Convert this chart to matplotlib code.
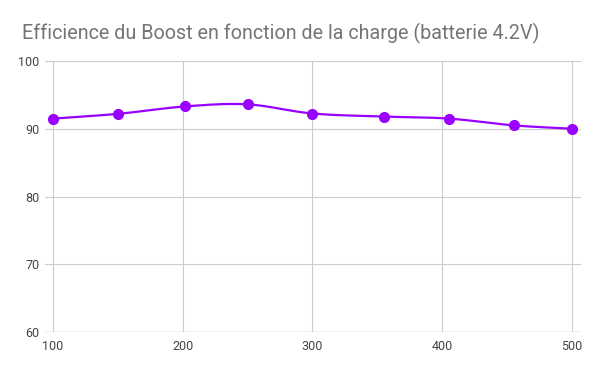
import matplotlib
matplotlib.use('Agg')
import matplotlib.pyplot as plt
import numpy as np

plt.rcParams['font.family'] = ['Roboto', 'DejaVu Sans']

# charge (mA) et efficience (%)
charge = [100, 150, 202, 250, 300, 355, 405, 455, 500]
efficience = [91.5, 92.2, 93.3, 93.6, 92.25, 91.8, 91.5, 90.5, 90.0]
x_ticks = [100, 200, 300, 400, 500]
y_ticks = [60, 70, 80, 90, 100]
title = 'Efficience du Boost en fonction de la charge (batterie 4.2V)'
color = '#9900ff'


def smooth(x, y, n=30):
    # catmull-rom pour le lissage de la courbe
    x = np.asarray(x, float)
    y = np.asarray(y, float)
    px = np.concatenate([[2 * x[0] - x[1]], x, [2 * x[-1] - x[-2]]])
    py = np.concatenate([[2 * y[0] - y[1]], y, [2 * y[-1] - y[-2]]])
    xs, ys = [], []
    t = np.linspace(0, 1, n)
    for i in range(1, len(px) - 2):
        for p, out in ((px, xs), (py, ys)):
            p0, p1, p2, p3 = p[i - 1], p[i], p[i + 1], p[i + 2]
            out.extend(0.5 * (2 * p1 + (-p0 + p2) * t
                              + (2 * p0 - 5 * p1 + 4 * p2 - p3) * t ** 2
                              + (-p0 + 3 * p1 - 3 * p2 + p3) * t ** 3))
    return xs, ys


fig = plt.figure(figsize=(6, 3.71), dpi=100)
ax = fig.add_axes([45 / 600, 39 / 371, (581 - 45) / 600, (332 - 61) / 371])

sx, sy = smooth(charge, efficience)
ax.plot(sx, sy, color=color, lw=1.6, zorder=3)
ax.plot(charge, efficience, 'o', color=color, ms=7, zorder=4)

ax.set_xlim(100 - 8 / 1.297, 500 + 9 / 1.297)
ax.set_ylim(60, 100)
ax.set_xticks(x_ticks)
ax.set_yticks(y_ticks)
for v in x_ticks:
    ax.axvline(v, color='#cccccc', lw=0.8, zorder=1)
for v in y_ticks:
    ax.axhline(v, color='#cccccc', lw=0.8, zorder=1)
ax.axhline(60, color='#bbbbbb', lw=1, zorder=2)
for s in ax.spines.values():
    s.set_visible(False)
ax.tick_params(length=0, labelsize=9, labelcolor='#444444')
ax.tick_params(axis='x', pad=6)
ax.tick_params(axis='y', pad=4)

fig.text(22 / 600, 1 - 33 / 371, title, fontsize=14.2, color='#757575',
         va='center', ha='left')

fig.savefig('out.png', dpi=100, facecolor='white')
